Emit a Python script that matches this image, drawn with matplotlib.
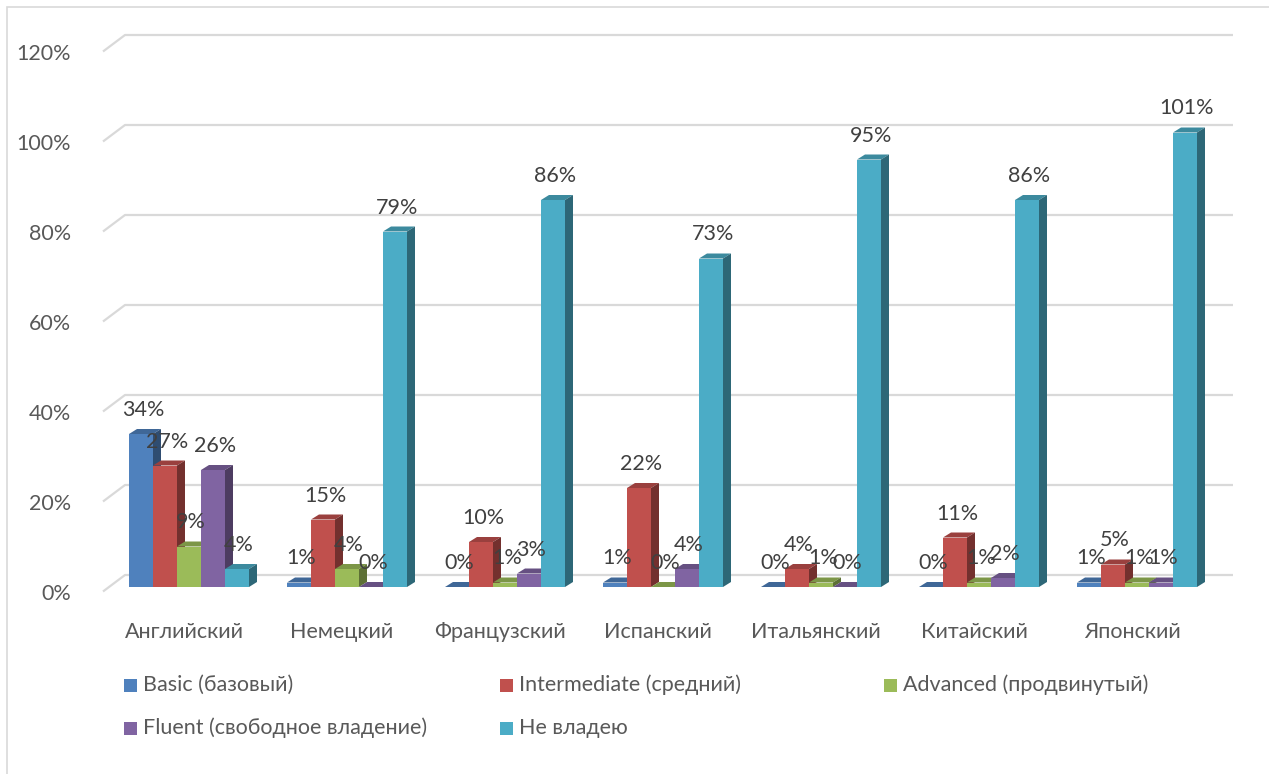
import numpy as np
import matplotlib.pyplot as plt
from matplotlib.patches import Polygon, Rectangle
from matplotlib.transforms import ScaledTranslation

plt.rcParams['font.family'] = ['Lato', 'DejaVu Sans']

languages = ['Английский', 'Немецкий', 'Французский', 'Испанский',
             'Итальянский', 'Китайский', 'Японский']
levels = ['Basic (базовый)', 'Intermediate (средний)', 'Advanced (продвинутый)',
          'Fluent (свободное владение)', 'Не владею']
basic = [34, 1, 0, 1, 0, 0, 1]
intermediate = [27, 15, 10, 22, 4, 11, 5]
advanced = [9, 4, 1, 0, 1, 1, 1]
fluent = [26, 0, 3, 4, 0, 2, 1]
no_skill = [4, 79, 86, 73, 95, 86, 101]
series = [basic, intermediate, advanced, fluent, no_skill]
colors = ['#4F81BD', '#C0504D', '#9BBB59', '#8064A2', '#4BACC6']
yticks = [0, 20, 40, 60, 80, 100, 120]

W, H = 1269, 774
fs = 15.5
fig = plt.figure(figsize=(W / 100, H / 100), dpi=100)
ax = fig.add_axes([110 / W, (H - 587) / H, 1106 / W, 540 / H])
ax.set_xlim(-0.5, 6.5)
ax.set_ylim(0, 120)
for s in ax.spines.values():
    s.set_visible(False)

px_x = 1 / 158.0   # data units per pixel (x)
px_y = 120 / 540.0  # data units per pixel (y)

# walls: gridlines with slanted side-wall segment
for t in yticks:
    xs = [-0.5 - 7 * px_x, -0.5 + 15 * px_x, -0.5 + 1123 * px_x]
    ys = [t - 4.5 * px_y, t + 12 * px_y, t + 12 * px_y]
    ax.plot(xs, ys, color='#D9D9D9', lw=1.6, clip_on=False, zorder=1,
            solid_capstyle='butt')

bw = 24 * px_x
dx, dy = 8 * px_x, 5 * px_y
x = np.arange(len(languages))
text_color = '#404040'

def shade(c, f):
    r, g, b = [int(c[i:i + 2], 16) / 255 for i in (1, 3, 5)]
    return (r * f, g * f, b * f)

for j, (vals, c) in enumerate(zip(series, colors)):
    xl = x - 2.5 * bw + j * bw
    z = 3 + 3 * j
    ax.bar(xl, vals, width=bw, align='edge', color=c, zorder=z,
           linewidth=0, label=levels[j])
    for x0, v in zip(xl, vals):
        x1 = x0 + bw
        top = Polygon([(x0, v), (x1, v), (x1 + dx, v + dy), (x0 + dx, v + dy)],
                      closed=True, facecolor=shade(c, 0.8), edgecolor='none',
                      zorder=z + 1)
        side = Polygon([(x1, 0), (x1 + dx, dy), (x1 + dx, v + dy), (x1, v)],
                       closed=True, facecolor=shade(c, 0.6), edgecolor='none',
                       zorder=z + 2)
        ax.add_patch(top)
        ax.add_patch(side)
        ax.annotate(f'{v}%', xy=(x0 + bw / 2, v), xytext=(2, 24),
                    textcoords='offset pixels', ha='center', va='center',
                    fontsize=fs, color=text_color, zorder=30)

ax.set_xticks(x)
ax.set_xticklabels(languages, fontsize=fs, color='#595959')
ax.set_yticks(yticks)
ax.set_yticklabels([f'{t}%' for t in yticks], fontsize=fs, color='#595959')
ax.tick_params(axis='both', length=0)
ax.tick_params(axis='x', pad=25)
ax.tick_params(axis='y', pad=28)
for lab in ax.get_xticklabels():
    lab.set_transform(lab.get_transform() + ScaledTranslation(-0.05, 0, fig.dpi_scale_trans))
for lab in ax.get_yticklabels():
    lab.set_transform(lab.get_transform() + ScaledTranslation(0, -0.045, fig.dpi_scale_trans))

# legend laid out like the Excel one: 3 columns, 2 rows
leg_x = [124, 500, 884]
leg_y = [685, 728]
for k, (name, c) in enumerate(zip(levels, colors)):
    col, row = k % 3, k // 3
    lx, ly = leg_x[col], leg_y[row]
    fig.patches.append(Rectangle((lx / W, (H - ly - 6.5) / H), 13 / W, 13 / H,
                                 transform=fig.transFigure, facecolor=c,
                                 edgecolor='none'))
    fig.text((lx + 19) / W, (H - ly) / H, name, fontsize=fs, color='#595959',
             ha='left', va='center')

fig.patches.append(Rectangle((7 / W, -10 / H), (W + 10) / W, (H - 7 + 10) / H,
                             transform=fig.transFigure, facecolor='none',
                             edgecolor='#D9D9D9', lw=1.2))

fig.savefig('out.png', dpi=100)
